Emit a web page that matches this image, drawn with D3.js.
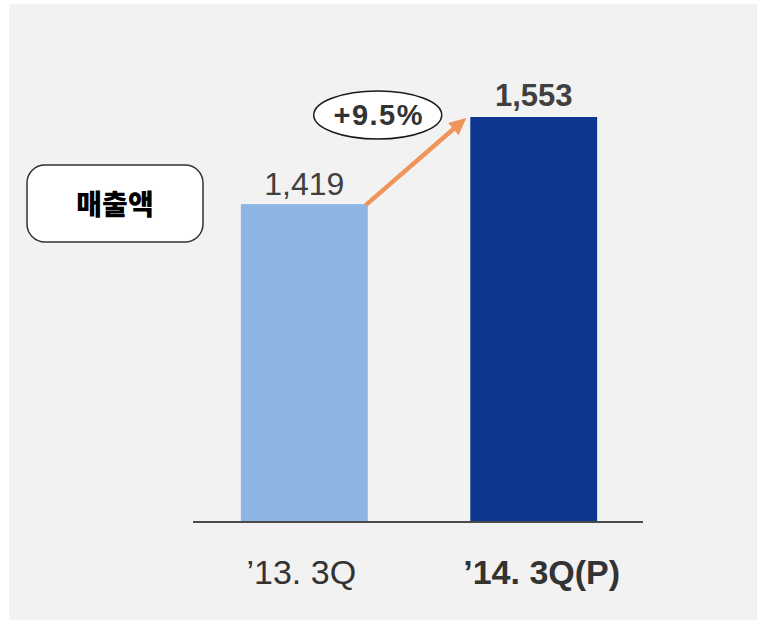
<!DOCTYPE html>
<html>
<head>
<meta charset="utf-8">
<script src="https://cdn.jsdelivr.net/npm/d3@7"></script>
<style>
  html, body { margin: 0; padding: 0; background: #ffffff; }
  svg { display: block; }
</style>
</head>
<body>
<div id="chart"></div>
<script>
const width = 759
const height = 621

// datos
const categories = ["’13. 3Q", "’14. 3Q(P)"]
const values = [1419, 1553]
const valueLabels = ["1,419", "1,553"]
const growthLabel = "+9.5%"
const boxLabel = "매출액"

const barColors = ["#8eb4e3", "#10378f"]
const arrowColor = "#f0955a"
const textColor = "#404040"

const baseY = 522

const svg = d3.select("#chart").append("svg").attr("width", width).attr("height", height)

// fondo gris
svg.append("rect")
    .attr("x", 9).attr("y", 4)
    .attr("width", 748).attr("height", 616)
    .attr("fill", "#f2f2f2")

const x = d3.scaleBand().domain(categories).range([195, 643]).paddingInner(0.447).paddingOuter(0.2)
// el eje no empieza en cero en el original
const y = d3.scaleLinear().domain([930, 1553]).range([baseY, 117])

const elementGroup = svg.append("g")

elementGroup.selectAll("rect.bar").data(values)
    .join("rect")
    .attr("class", "bar")
    .attr("x", (d, i) => x(categories[i]))
    .attr("y", d => y(d))
    .attr("width", x.bandwidth())
    .attr("height", d => baseY - y(d))
    .attr("fill", (d, i) => barColors[i])

// linea base
svg.append("line")
    .attr("x1", 193).attr("x2", 643)
    .attr("y1", baseY).attr("y2", baseY)
    .attr("stroke", "#4a4a4a")
    .attr("stroke-width", 2)

// etiquetas de valor
elementGroup.selectAll("text.value").data(values)
    .join("text")
    .attr("class", "value")
    .attr("x", (d, i) => x(categories[i]) + x.bandwidth() / 2)
    .attr("y", (d, i) => y(d) - (i === 0 ? 9 : 11))
    .attr("text-anchor", "middle")
    .attr("font-family", "'Liberation Sans', Arial, sans-serif")
    .attr("font-size", (d, i) => i === 0 ? 32 : 31)
    .attr("font-weight", (d, i) => i === 0 ? "normal" : "bold")
    .attr("fill", textColor)
    .text((d, i) => valueLabels[i])

// etiquetas del eje x
elementGroup.selectAll("text.cat").data(categories)
    .join("text")
    .attr("class", "cat")
    .attr("x", (d, i) => x(d) + x.bandwidth() / 2 + (i === 0 ? -3 : 8))
    .attr("y", 584)
    .attr("text-anchor", "middle")
    .attr("font-family", "'Liberation Sans', Arial, sans-serif")
    .attr("font-size", 34)
    .attr("font-weight", (d, i) => i === 0 ? "normal" : "bold")
    .attr("fill", "#333333")
    .text(d => d)

// flecha de crecimiento
const x0 = x(categories[0]) + x.bandwidth() - 2
const y0 = y(values[0]) + 1
const x1 = x(categories[1]) - 4
const y1 = y(values[1]) + 1
const ang = Math.atan2(y1 - y0, x1 - x0)
const headLen = 17
const headW = 8
const bx = x1 - headLen * Math.cos(ang)
const by = y1 - headLen * Math.sin(ang)

svg.append("line")
    .attr("x1", x0).attr("y1", y0)
    .attr("x2", bx + 2 * Math.cos(ang)).attr("y2", by + 2 * Math.sin(ang))
    .attr("stroke", arrowColor)
    .attr("stroke-width", 4.5)

svg.append("path")
    .attr("d", `M${x1},${y1}L${bx - headW * Math.sin(ang)},${by + headW * Math.cos(ang)}L${bx + headW * Math.sin(ang)},${by - headW * Math.cos(ang)}Z`)
    .attr("fill", arrowColor)

// ovalo con porcentaje
const ex = x(categories[0]) + x.bandwidth() + 10
const ey = y(values[1]) - 2
svg.append("ellipse")
    .attr("cx", ex).attr("cy", ey)
    .attr("rx", 64).attr("ry", 24)
    .attr("fill", "#ffffff")
    .attr("stroke", "#1a1a1a")
    .attr("stroke-width", 1.5)
svg.append("text")
    .attr("x", ex + 1).attr("y", ey + 10)
    .attr("text-anchor", "middle")
    .attr("font-family", "'Liberation Sans', Arial, sans-serif")
    .attr("font-size", 29)
    .attr("font-weight", "bold")
    .attr("letter-spacing", 1.5)
    .attr("fill", "#333333")
    .text(growthLabel)

// caja 매출액
svg.append("rect")
    .attr("x", 27).attr("y", 165)
    .attr("width", 176).attr("height", 77)
    .attr("rx", 18)
    .attr("fill", "#ffffff")
    .attr("stroke", "#333333")
    .attr("stroke-width", 1.5)
svg.append("text")
    .attr("x", 115).attr("y", 215)
    .attr("text-anchor", "middle")
    .attr("font-family", "'Noto Sans CJK KR', sans-serif")
    .attr("font-size", 28)
    .attr("font-weight", 900)
    .attr("fill", "#000000")
    .text(boxLabel)
</script>
</body>
</html>
